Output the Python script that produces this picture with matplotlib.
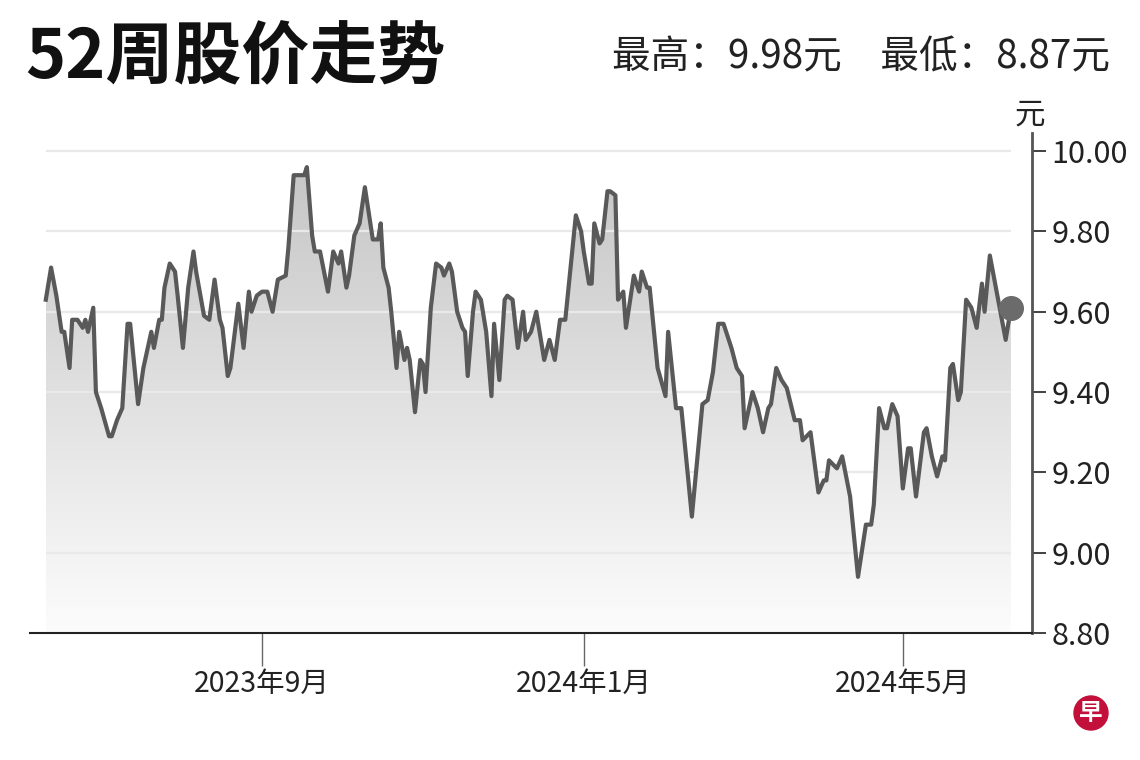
import numpy as np
import pandas as pd
import matplotlib
matplotlib.use("Agg")
import matplotlib.pyplot as plt
import matplotlib.dates as mdates
from matplotlib.patches import Polygon, Ellipse
from matplotlib.colors import LinearSegmentedColormap

plt.rcParams['font.family'] = ['Noto Sans CJK SC', 'DejaVu Sans']

# 52-week closing prices
dates = [
    '2023-06-11', '2023-06-13', '2023-06-15', '2023-06-17', '2023-06-18', '2023-06-20',
    '2023-06-21', '2023-06-23', '2023-06-25', '2023-06-26', '2023-06-27', '2023-06-29',
    '2023-06-30', '2023-07-02', '2023-07-05', '2023-07-06', '2023-07-08', '2023-07-10',
    '2023-07-12', '2023-07-13', '2023-07-16', '2023-07-18', '2023-07-19', '2023-07-21',
    '2023-07-22', '2023-07-24', '2023-07-25', '2023-07-26', '2023-07-28', '2023-07-30',
    '2023-07-31', '2023-08-02', '2023-08-04', '2023-08-06', '2023-08-07', '2023-08-10',
    '2023-08-12', '2023-08-14', '2023-08-16', '2023-08-17', '2023-08-19', '2023-08-20',
    '2023-08-23', '2023-08-25', '2023-08-27', '2023-08-28', '2023-08-30', '2023-09-01',
    '2023-09-03', '2023-09-05', '2023-09-07', '2023-09-10', '2023-09-11', '2023-09-13',
    '2023-09-15', '2023-09-17', '2023-09-18', '2023-09-20', '2023-09-21', '2023-09-23',
    '2023-09-26', '2023-09-28', '2023-09-30', '2023-10-01', '2023-10-03', '2023-10-04',
    '2023-10-06', '2023-10-08', '2023-10-10', '2023-10-13', '2023-10-15', '2023-10-16',
    '2023-10-17', '2023-10-19', '2023-10-20', '2023-10-22', '2023-10-23', '2023-10-25',
    '2023-10-26', '2023-10-27', '2023-10-29', '2023-10-31', '2023-11-01', '2023-11-02',
    '2023-11-04', '2023-11-06', '2023-11-08', '2023-11-09', '2023-11-11', '2023-11-12',
    '2023-11-14', '2023-11-16', '2023-11-17', '2023-11-18', '2023-11-20', '2023-11-21',
    '2023-11-23', '2023-11-25', '2023-11-27', '2023-11-28', '2023-11-30', '2023-12-02',
    '2023-12-03', '2023-12-05', '2023-12-07', '2023-12-09', '2023-12-10', '2023-12-12',
    '2023-12-14', '2023-12-17', '2023-12-19', '2023-12-21', '2023-12-23', '2023-12-25',
    '2023-12-27', '2023-12-29', '2023-12-31', '2024-01-01', '2024-01-03', '2024-01-04',
    '2024-01-05', '2024-01-07', '2024-01-08', '2024-01-10', '2024-01-11', '2024-01-13',
    '2024-01-14', '2024-01-16', '2024-01-17', '2024-01-20', '2024-01-22', '2024-01-23',
    '2024-01-25', '2024-01-26', '2024-01-29', '2024-02-01', '2024-02-02', '2024-02-05',
    '2024-02-07', '2024-02-11', '2024-02-15', '2024-02-17', '2024-02-19', '2024-02-21',
    '2024-02-23', '2024-02-26', '2024-02-28', '2024-03-01', '2024-03-02', '2024-03-05',
    '2024-03-07', '2024-03-09', '2024-03-11', '2024-03-12', '2024-03-14', '2024-03-16',
    '2024-03-18', '2024-03-21', '2024-03-23', '2024-03-24', '2024-03-27', '2024-03-30',
    '2024-04-01', '2024-04-02', '2024-04-03', '2024-04-06', '2024-04-08', '2024-04-11',
    '2024-04-14', '2024-04-17', '2024-04-19', '2024-04-20', '2024-04-22', '2024-04-24',
    '2024-04-25', '2024-04-27', '2024-04-29', '2024-05-01', '2024-05-03', '2024-05-04',
    '2024-05-06', '2024-05-09', '2024-05-10', '2024-05-12', '2024-05-14', '2024-05-16',
    '2024-05-17', '2024-05-19', '2024-05-20', '2024-05-22', '2024-05-23', '2024-05-25',
    '2024-05-27', '2024-05-29', '2024-05-31', '2024-06-01', '2024-06-03', '2024-06-07',
    '2024-06-09', '2024-06-11',
]
prices = [
    9.63, 9.71, 9.64, 9.55, 9.55, 9.46,
    9.58, 9.58, 9.56, 9.58, 9.55, 9.61,
    9.40, 9.36, 9.29, 9.29, 9.33, 9.36,
    9.57, 9.57, 9.37, 9.46, 9.49, 9.55,
    9.51, 9.58, 9.58, 9.66, 9.72, 9.70,
    9.64, 9.51, 9.66, 9.75, 9.70, 9.59,
    9.58, 9.68, 9.58, 9.56, 9.44, 9.46,
    9.62, 9.51, 9.65, 9.60, 9.64, 9.65,
    9.65, 9.60, 9.68, 9.69, 9.76, 9.94,
    9.94, 9.94, 9.96, 9.79, 9.75, 9.75,
    9.65, 9.75, 9.72, 9.75, 9.66, 9.69,
    9.79, 9.82, 9.91, 9.78, 9.78, 9.82,
    9.71, 9.66, 9.60, 9.46, 9.55, 9.48,
    9.51, 9.48, 9.35, 9.48, 9.47, 9.40,
    9.61, 9.72, 9.71, 9.69, 9.72, 9.70,
    9.60, 9.56, 9.55, 9.44, 9.60, 9.65,
    9.63, 9.55, 9.39, 9.57, 9.43, 9.63,
    9.64, 9.63, 9.51, 9.60, 9.53, 9.55,
    9.60, 9.48, 9.53, 9.48, 9.58, 9.58,
    9.71, 9.84, 9.80, 9.75, 9.67, 9.67,
    9.82, 9.77, 9.78, 9.90, 9.90, 9.89,
    9.63, 9.65, 9.56, 9.69, 9.65, 9.70,
    9.66, 9.66, 9.46, 9.39, 9.55, 9.36,
    9.36, 9.09, 9.37, 9.38, 9.45, 9.57,
    9.57, 9.51, 9.46, 9.44, 9.31, 9.40,
    9.36, 9.30, 9.36, 9.37, 9.46, 9.43,
    9.41, 9.33, 9.33, 9.28, 9.30, 9.15,
    9.18, 9.18, 9.23, 9.21, 9.24, 9.14,
    8.94, 9.07, 9.07, 9.12, 9.36, 9.31,
    9.31, 9.37, 9.34, 9.16, 9.26, 9.26,
    9.14, 9.30, 9.31, 9.24, 9.19, 9.24,
    9.23, 9.46, 9.47, 9.38, 9.40, 9.63,
    9.61, 9.56, 9.67, 9.60, 9.74, 9.60,
    9.53, 9.61,
]

yticks = [8.80, 9.00, 9.20, 9.40, 9.60, 9.80, 10.00]
xtick_dates = ['2023-09-01', '2024-01-01', '2024-05-01']
xtick_labels = ['2023年9月', '2024年1月', '2024年5月']
title = '52周股价走势'
summary = '最高：9.98元　最低：8.87元'

x = mdates.date2num(pd.to_datetime(dates))
ymin, ymax = 8.80, 10.045

fig = plt.figure(figsize=(11.4, 7.6), dpi=100)
ax = fig.add_axes([0.0263, 0.167, 0.879, 0.658])

# gradient fill under the line
verts = [(x[0], ymin)] + list(zip(x, prices)) + [(x[-1], ymin)]
poly = Polygon(verts, closed=True, facecolor='none', edgecolor='none')
ax.add_patch(poly)
grad = np.linspace(1, 0, 256).reshape(-1, 1)
cmap = LinearSegmentedColormap.from_list('fade', ['#fcfcfc', '#c2c2c2'])
im = ax.imshow(grad, aspect='auto', cmap=cmap, origin='upper',
               extent=[x[0], x[-1], ymin, ymax], zorder=1)
im.set_clip_path(poly)

# light grid lines over the fill
ax.hlines(yticks[1:], x[0], x[-1], color='#e9e9e9', lw=1.6, zorder=2)

ax.plot(x, prices, color='#595959', lw=3, solid_joinstyle='round', zorder=3)
ax.plot(x[-1], prices[-1], 'o', ms=17, color='#6b6b6b', zorder=4)

ax.set_xlim(pd.Timestamp('2023-06-05'), pd.Timestamp('2024-06-19'))
ax.set_ylim(ymin, ymax)

ax.yaxis.tick_right()
ax.set_yticks(yticks)
ax.set_yticklabels([f'{v:.2f}' for v in yticks])
ax.set_xticks(pd.to_datetime(xtick_dates))
ax.set_xticklabels(xtick_labels)
ax.tick_params(axis='y', length=10, width=1.3, color='#333333', pad=4,
               labelsize=22, labelcolor='#222222')
ax.tick_params(axis='x', length=24, width=1, color='#666666', pad=2,
               labelsize=20.5, labelcolor='#222222')

for s in ['top', 'left']:
    ax.spines[s].set_visible(False)
ax.spines['bottom'].set_color('#222222')
ax.spines['bottom'].set_linewidth(1.5)
ax.spines['right'].set_color('#555555')
ax.spines['right'].set_linewidth(2)

fig.text(0.9035, 0.849, '元', fontsize=22, ha='center', va='center', color='#222222')
fig.text(0.022, 0.922, title, fontsize=49, fontweight='bold', ha='left', va='center',
         color='#111111')
fig.text(0.974, 0.925, summary, fontsize=27.8, ha='right', va='center', color='#222222')

# logo
fig.add_artist(Ellipse((1091 / 1140, 1 - 713 / 760), 34 / 1140, 34 / 760,
                       transform=fig.transFigure, color='#c2103b'))
fig.text(1091 / 1140, 1 - 713 / 760, '早', fontsize=17, fontweight='bold',
         color='white', ha='center', va='center')

fig.savefig('out.png', dpi=100)
